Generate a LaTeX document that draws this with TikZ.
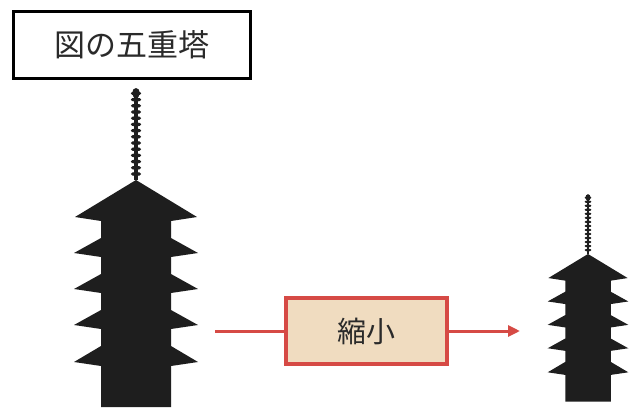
\documentclass[tikz,border=0pt]{standalone}
\usepackage{fontspec}
\newfontfamily\jpfont{Noto Sans CJK JP}
\usetikzlibrary{arrows.meta}
\definecolor{shrinkred}{HTML}{D64A45}
\definecolor{shrinkfill}{HTML}{F0DCC0}
\definecolor{towerink}{HTML}{1E1E1E}
\definecolor{inktext}{HTML}{2A2A2A}
\tikzset{
  labelbox/.style={draw=black, line width=3.2pt, fill=white, inner sep=0pt,
    minimum width=237pt, minimum height=67pt, text=inktext,
    font=\jpfont\fontsize{31}{31}\selectfont},
  shrinkbox/.style={draw=shrinkred, line width=3.2pt, fill=shrinkfill, inner sep=0pt,
    minimum width=161pt, minimum height=66pt, text=inktext,
    font=\jpfont\fontsize{29}{29}\selectfont},
  flow/.style={draw=shrinkred, line width=3pt},
  tower/.style={fill=towerink},
}
% five-storey pagoda, roof apex at the origin, y pointing down
\newcommand\pagodashape{%
  % spire with its rings
  \fill[tower] (-2,-88) rectangle (2,0);
  \foreach \k in {0,...,13} \fill[tower] (0,-6-6.2*\k) ellipse (5.2 and 2.1);
  \fill[tower] (0,-87) ellipse (3.8 and 5);
  % roofs and body
  \fill[tower] (0,0) -- (61,37) -- (35,41) -- (35,58) -- (62,73) -- (35,77)
    -- (35,94) -- (62,109) -- (35,113) -- (35,130) -- (62,145) -- (35,149)
    -- (35,166) -- (62,182) -- (35,186) -- (35,227)
    -- (-35,227) -- (-35,186) -- (-62,182) -- (-35,166)
    -- (-35,149) -- (-62,145) -- (-35,130) -- (-35,113) -- (-62,109)
    -- (-35,94) -- (-35,77) -- (-62,73) -- (-35,58) -- (-35,41)
    -- (-61,37) -- cycle;
}
\begin{document}
\begin{tikzpicture}[x=1pt, y=-1pt]
  \useasboundingbox (0,0) rectangle (629,407);
  \fill[white] (0,0) rectangle (629,407);

  % caption box
  \node[labelbox] (title) at (132,45) {図の五重塔};

  % the original tower
  \begin{scope}[shift={(136,180)}]
    \pagodashape
  \end{scope}

  % the reduced tower
  \begin{scope}[shift={(588,254)}, scale=0.65]
    \pagodashape
  \end{scope}

  % reduction step
  \node[shrinkbox] (shrink) at (366.5,331) {縮小};
  \coordinate (feed) at (215,331);
  \coordinate (result) at (520,331);
  \draw[flow] (feed) -- (shrink.west);
  \draw[flow, -{Triangle[length=12pt, width=11pt]}] (shrink.east) -- (result);
\end{tikzpicture}
\end{document}
